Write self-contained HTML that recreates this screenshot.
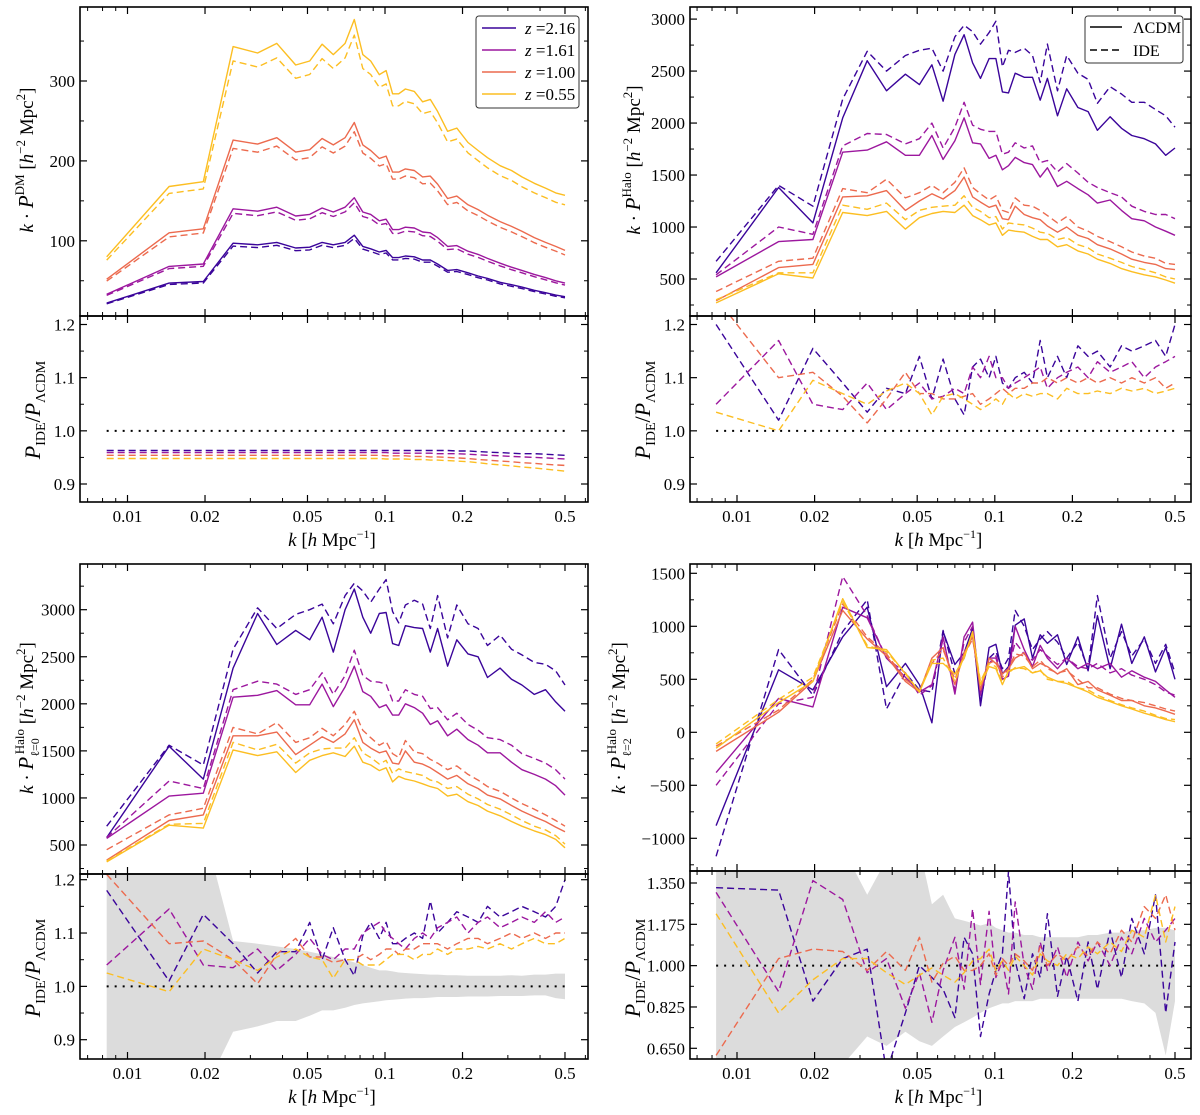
<!DOCTYPE html>
<html><head><meta charset="utf-8"><style>
html,body{margin:0;padding:0;background:#fff;}
svg{display:block;font-family:"Liberation Serif","DejaVu Serif",serif;}
</style></head><body>
<svg id="fig" xmlns="http://www.w3.org/2000/svg" width="1200" height="1115" viewBox="0 0 1200 1115"></svg>
<script>
const K = [0.0083,0.0145,0.0197,0.0257,0.032,0.038,0.045,0.051,0.057,0.063,0.070,0.076,0.082,0.088,0.095,0.101,0.107,0.113,0.12,0.13,0.14,0.15,0.16,0.175,0.19,0.21,0.23,0.25,0.28,0.31,0.34,0.38,0.42,0.46,0.5];
const redshifts = ["2.16","1.61","1.00","0.55"];
const colors = ["#3a049a","#9c179e","#ec6a4e","#fcbe22"];

// Panel 1: dark matter
const dmLcdm216 = [22,47,49,97,95,98,91,92,98,95,98,107,93,90,86,88,79,79,81,80,76,76,71,63,64,60,56,53,48,45,42,38,35,32,30];
const dmLcdm161 = [33,68,71,140,137,142,131,133,141,136,142,154,136,133,125,127,114,114,117,116,111,110,104,93,94,87,83,78,72,67,63,58,54,50,47];
const dmLcdm100 = [52,110,115,226,221,229,211,214,228,220,229,248,220,213,203,206,186,186,190,188,180,181,171,153,156,145,139,132,124,118,112,104,98,93,88];
const dmLcdm055 = [80,168,174,343,335,347,320,325,346,333,347,377,333,325,308,313,284,284,290,287,274,277,262,237,241,223,213,204,194,188,180,172,166,160,157];
const dmRatio216 = [0.963,0.963,0.963,0.963,0.963,0.963,0.963,0.963,0.963,0.963,0.963,0.963,0.963,0.963,0.963,0.963,0.963,0.963,0.963,0.963,0.963,0.963,0.963,0.963,0.962,0.962,0.961,0.960,0.959,0.958,0.957,0.957,0.956,0.955,0.954];
const dmRatio161 = [0.959,0.959,0.959,0.959,0.959,0.959,0.959,0.959,0.959,0.959,0.959,0.959,0.959,0.959,0.959,0.959,0.958,0.958,0.958,0.958,0.958,0.958,0.957,0.957,0.957,0.956,0.955,0.954,0.953,0.952,0.951,0.950,0.949,0.948,0.947];
const dmRatio100 = [0.954,0.954,0.954,0.954,0.954,0.954,0.954,0.954,0.954,0.954,0.954,0.954,0.954,0.954,0.954,0.953,0.953,0.953,0.953,0.952,0.952,0.951,0.951,0.950,0.949,0.948,0.946,0.945,0.943,0.942,0.940,0.939,0.937,0.936,0.935];
const dmRatio055 = [0.948,0.948,0.948,0.948,0.948,0.948,0.948,0.948,0.948,0.948,0.948,0.948,0.948,0.948,0.948,0.947,0.947,0.947,0.947,0.946,0.946,0.945,0.945,0.944,0.943,0.942,0.940,0.938,0.936,0.934,0.932,0.930,0.928,0.926,0.924];

// Panel 2: halo
const hLcdm216 = [560,1380,1040,2050,2600,2310,2470,2370,2560,2210,2660,2850,2580,2430,2620,2620,2300,2290,2480,2440,2440,2220,2430,2070,2330,2150,2110,1930,2060,1950,1880,1850,1800,1690,1760];
const hIde216 = [670,1400,1200,2230,2690,2500,2650,2700,2720,2500,2830,2940,2880,2760,2870,2980,2540,2700,2680,2720,2650,2390,2760,2310,2650,2480,2420,2190,2350,2280,2200,2200,2130,2070,1960];
const hLcdm161 = [520,860,880,1720,1740,1820,1690,1690,1880,1650,1830,2050,1810,1800,1660,1690,1550,1590,1670,1620,1600,1480,1570,1390,1440,1370,1310,1230,1260,1160,1080,1060,1000,960,920];
const hIde161 = [540,1000,930,1780,1900,1890,1800,1850,2000,1760,1960,2200,1980,1940,1920,1920,1700,1720,1810,1760,1780,1620,1640,1530,1610,1520,1430,1380,1330,1290,1200,1150,1120,1120,1080];
const hLcdm100 = [290,610,640,1290,1300,1350,1160,1250,1320,1270,1350,1480,1290,1240,1190,1210,1080,1070,1200,1120,1090,1070,1010,950,1000,920,890,830,790,740,690,660,640,600,590];
const hIde100 = [380,670,700,1370,1330,1460,1280,1330,1400,1330,1430,1570,1380,1320,1260,1300,1160,1140,1280,1210,1200,1160,1110,1040,1100,1000,960,910,860,810,760,720,700,650,640];
const hLcdm055 = [270,550,510,1140,1110,1150,980,1090,1130,1150,1140,1210,1110,1070,1020,1040,920,970,960,950,910,880,880,810,830,770,740,690,650,600,570,540,520,490,460];
const hIde055 = [300,560,560,1210,1170,1230,1070,1160,1190,1200,1210,1300,1190,1150,1090,1100,980,1040,1030,1020,990,950,940,880,900,830,800,740,700,660,620,590,560,520,500];
const hRatio216 = [1.20,1.02,1.155,1.09,1.035,1.08,1.07,1.14,1.06,1.135,1.06,1.03,1.12,1.135,1.10,1.14,1.09,1.08,1.10,1.11,1.09,1.17,1.10,1.14,1.10,1.16,1.14,1.15,1.12,1.16,1.15,1.16,1.17,1.14,1.20];
const hRatio161 = [1.05,1.17,1.05,1.04,1.09,1.04,1.07,1.09,1.06,1.065,1.08,1.07,1.12,1.10,1.14,1.10,1.10,1.08,1.09,1.10,1.11,1.12,1.08,1.10,1.11,1.12,1.10,1.13,1.11,1.12,1.13,1.10,1.12,1.13,1.14];
const hRatio100 = [1.25,1.10,1.11,1.065,1.015,1.06,1.11,1.07,1.07,1.06,1.06,1.065,1.07,1.05,1.06,1.07,1.08,1.07,1.08,1.08,1.09,1.09,1.10,1.09,1.10,1.09,1.10,1.09,1.10,1.09,1.10,1.09,1.10,1.08,1.09];
const hRatio055 = [1.035,1.00,1.095,1.07,1.05,1.075,1.09,1.07,1.03,1.065,1.07,1.06,1.05,1.04,1.05,1.06,1.05,1.07,1.06,1.07,1.065,1.07,1.07,1.06,1.08,1.07,1.07,1.075,1.07,1.08,1.075,1.08,1.07,1.075,1.08];

// Panel 3: monopole
const m0Lcdm216 = [580,1550,1200,2380,2960,2630,2780,2680,2920,2550,3000,3220,2920,2750,2960,2970,2640,2620,2830,2810,2800,2550,2800,2400,2680,2530,2500,2280,2380,2260,2200,2100,2150,2020,1920];
const m0Ide216 = [700,1560,1350,2580,3020,2800,2950,3000,3060,2850,3150,3280,3200,3080,3220,3320,2980,2860,3050,3100,3060,2800,3150,2700,3050,2850,2800,2620,2730,2580,2520,2440,2420,2350,2200];
const m0Lcdm161 = [570,1020,1050,2070,2090,2140,1990,1990,2210,1970,2180,2400,2130,2080,1960,1990,1880,1880,2000,1960,1900,1780,1820,1660,1730,1620,1560,1480,1480,1380,1300,1250,1200,1130,1030];
const m0Ide161 = [580,1180,1100,2150,2240,2210,2100,2150,2330,2100,2300,2570,2300,2240,2230,2210,2030,2030,2150,2100,2080,1950,1960,1830,1900,1780,1720,1640,1620,1560,1470,1420,1370,1300,1200];
const m0Lcdm100 = [340,760,820,1660,1660,1700,1460,1560,1650,1590,1680,1830,1590,1530,1480,1500,1370,1360,1500,1380,1360,1320,1270,1200,1240,1150,1100,1030,990,920,860,800,750,690,640];
const m0Ide100 = [450,820,890,1750,1680,1800,1590,1640,1740,1660,1780,1920,1720,1640,1560,1600,1470,1430,1610,1490,1470,1410,1370,1300,1340,1250,1190,1120,1070,1000,940,880,820,760,700];
const m0Lcdm055 = [320,710,680,1510,1450,1490,1270,1400,1450,1480,1440,1550,1380,1350,1290,1320,1170,1230,1200,1180,1150,1120,1100,1020,1040,960,920,860,810,750,700,650,610,560,470];
const m0Ide055 = [330,720,730,1590,1510,1570,1370,1480,1520,1530,1530,1640,1480,1430,1360,1400,1260,1310,1280,1260,1240,1190,1170,1100,1120,1040,990,930,880,820,760,700,660,600,510];
const m0Ratio216 = [1.18,1.01,1.135,1.08,1.025,1.065,1.065,1.12,1.05,1.11,1.05,1.02,1.095,1.12,1.09,1.12,1.08,1.08,1.09,1.10,1.09,1.16,1.10,1.12,1.14,1.13,1.12,1.15,1.13,1.14,1.15,1.14,1.13,1.15,1.20];
const m0Ratio161 = [1.04,1.145,1.04,1.035,1.07,1.03,1.06,1.09,1.06,1.05,1.07,1.07,1.10,1.11,1.12,1.10,1.09,1.08,1.07,1.09,1.10,1.09,1.11,1.12,1.13,1.10,1.12,1.13,1.11,1.12,1.13,1.12,1.14,1.12,1.13];
const m0Ratio100 = [1.21,1.08,1.085,1.05,1.005,1.06,1.09,1.055,1.055,1.045,1.05,1.05,1.06,1.05,1.06,1.07,1.07,1.06,1.07,1.07,1.08,1.08,1.08,1.07,1.08,1.09,1.09,1.08,1.09,1.10,1.09,1.10,1.09,1.10,1.10];
const m0Ratio055 = [1.025,0.99,1.07,1.05,1.03,1.055,1.07,1.055,1.05,1.015,1.05,1.05,1.04,1.04,1.04,1.05,1.06,1.06,1.06,1.05,1.06,1.06,1.07,1.06,1.07,1.07,1.075,1.07,1.08,1.07,1.08,1.09,1.08,1.08,1.09];
const m0BandHi = [1.30,1.30,1.30,1.085,1.08,1.075,1.07,1.065,1.06,1.055,1.05,1.045,1.04,1.035,1.03,1.03,1.028,1.026,1.025,1.024,1.023,1.022,1.022,1.021,1.021,1.02,1.02,1.02,1.02,1.021,1.02,1.022,1.022,1.024,1.024];
const m0BandLo = [0.80,0.80,0.80,0.915,0.925,0.935,0.935,0.945,0.955,0.955,0.96,0.965,0.968,0.97,0.972,0.974,0.975,0.976,0.977,0.978,0.978,0.979,0.98,0.98,0.98,0.981,0.981,0.981,0.982,0.982,0.982,0.983,0.983,0.978,0.976];

// Panel 4: quadrupole
const m2Lcdm216 = [-880,590,400,900,1180,430,650,450,90,950,640,750,980,250,800,830,550,620,1010,1070,700,920,840,920,640,900,580,1100,600,1020,650,900,570,800,500];
const m2Ide216 = [-1170,780,350,950,1250,220,560,400,380,960,550,700,950,300,700,760,600,700,1150,1000,780,880,950,850,700,850,600,1290,700,950,720,880,650,830,560];
const m2Lcdm161 = [-380,320,240,1180,1080,700,520,380,450,900,360,900,1040,350,700,700,500,530,1000,780,620,820,700,600,700,600,650,600,650,520,580,520,480,400,330];
const m2Ide161 = [-500,270,330,1470,1100,700,560,350,440,880,400,850,1000,380,650,720,560,600,850,740,680,780,720,640,700,620,600,650,560,600,540,500,450,380,350];
const m2Lcdm100 = [-180,190,480,1150,880,720,480,380,700,800,450,750,900,400,700,650,550,600,700,750,600,650,620,550,600,450,480,400,350,300,300,250,230,200,170];
const m2Ide100 = [-130,210,500,1210,900,740,500,400,650,780,500,730,880,450,650,680,520,600,740,720,620,680,600,560,580,500,420,420,360,320,300,280,250,220,200];
const m2Lcdm055 = [-150,280,480,1260,800,780,550,380,650,650,550,700,950,450,620,600,450,580,600,620,560,580,520,480,460,420,380,330,290,250,220,180,150,120,100];
const m2Ide055 = [-110,310,520,1230,820,760,560,380,680,700,480,720,930,480,650,620,470,560,610,600,560,590,500,480,480,420,400,350,300,260,230,200,160,130,120];
const m2Ratio216 = [1.33,1.32,0.85,1.03,1.07,0.55,0.80,1.00,0.95,0.90,0.78,1.12,1.05,0.70,0.88,0.98,1.05,1.40,1.02,0.86,1.05,0.95,1.22,0.87,1.04,0.85,1.10,0.90,1.15,0.95,1.20,1.05,1.30,0.80,1.10];
const m2Ratio161 = [1.31,0.89,1.36,1.28,0.97,1.03,0.82,0.97,0.76,0.98,1.12,0.90,1.24,0.92,1.23,0.95,1.02,0.88,1.27,1.00,0.90,1.10,0.98,1.08,0.95,1.10,1.02,1.10,1.00,1.12,1.05,1.20,1.10,1.15,1.20];
const m2Ratio100 = [0.62,1.03,1.07,1.06,0.98,1.06,0.98,1.12,0.93,1.01,1.04,0.98,0.98,1.00,1.05,0.96,1.03,1.00,1.05,1.02,0.98,1.08,1.00,1.05,1.02,1.08,1.04,1.10,1.05,1.15,1.10,1.25,1.20,1.30,1.15];
const m2Ratio055 = [1.22,0.80,0.94,1.03,1.03,0.97,0.92,0.96,0.99,0.96,0.93,0.97,1.02,1.03,1.07,0.98,1.02,0.98,1.04,1.00,0.96,1.05,1.02,1.00,1.05,1.03,1.08,1.05,1.10,1.06,1.15,1.12,1.30,1.10,1.25];
const m2BandHi = [1.50,1.50,1.50,1.50,1.30,1.45,1.50,1.50,1.26,1.30,1.20,1.19,1.18,1.17,1.18,1.16,1.15,1.14,1.14,1.13,1.13,1.12,1.12,1.12,1.12,1.12,1.13,1.13,1.14,1.14,1.15,1.15,1.16,1.16,1.15];
const m2BandLo = [0.58,0.58,0.58,0.58,0.70,0.66,0.72,0.68,0.66,0.70,0.74,0.76,0.78,0.80,0.82,0.83,0.84,0.84,0.85,0.85,0.85,0.86,0.86,0.86,0.86,0.86,0.86,0.86,0.86,0.86,0.85,0.84,0.80,0.62,0.85];

const xTickVals = [0.01,0.02,0.05,0.1,0.2,0.5];
const xTickText = ["0.01","0.02","0.05","0.1","0.2","0.5"];

const NS = "http://www.w3.org/2000/svg";
const fig = document.getElementById("fig");
function mk(tag, attrs, parent){
  const e = document.createElementNS(NS, tag);
  for (const a in attrs) e.setAttribute(a, attrs[a]);
  (parent||fig).appendChild(e);
  return e;
}

const LEFT = {x0:80, x1:588, kx0:127.5, dec:257.5};
const RIGHT = {x0:690, x1:1191, kx0:737, dec:257.8};
function xf(col){ return k => col.kx0 + col.dec*Math.log10(k/0.01); }
function yf(v1,p1,v2,p2){ return v => p1 + (v - v1)*(p2 - p1)/(v2 - v1); }

let clipId = 0;
function axesBox(col, yTop, yBot, yMap, yTicks, yTickText, yMinor, name, showXLabels){
  const g = mk("g", {});
  
  
  const X = xf(col);
  // x ticks
  const minorK = [];
  for (const d of [0.001,0.01,0.1]) for (let m=2; m<=9; m++){ const k=m*d; if (X(k)>col.x0 && X(k)<col.x1 && xTickVals.indexOf(Math.round(k*1000)/1000)<0) minorK.push(k); }
  xTickVals.forEach(k=>{ const x=X(k);
    mk("line",{x1:x,x2:x,y1:yBot,y2:yBot-7,stroke:"#000","stroke-width":1.2},g);
    mk("line",{x1:x,x2:x,y1:yTop,y2:yTop+7,stroke:"#000","stroke-width":1.2},g);
  });
  minorK.forEach(k=>{ const x=X(k);
    mk("line",{x1:x,x2:x,y1:yBot,y2:yBot-4,stroke:"#000","stroke-width":1},g);
    mk("line",{x1:x,x2:x,y1:yTop,y2:yTop+4,stroke:"#000","stroke-width":1},g);
  });
  yTicks.forEach((v,i)=>{ const y=yMap(v);
    mk("line",{x1:col.x0,x2:col.x0+7,y1:y,y2:y,stroke:"#000","stroke-width":1.2},g);
    mk("line",{x1:col.x1,x2:col.x1-7,y1:y,y2:y,stroke:"#000","stroke-width":1.2},g);
    const t = mk("text",{x:col.x0-5,y:y+6,"text-anchor":"end","font-size":17},g);
    t.textContent = yTickText[i];
    
    
  });
  yMinor.forEach(v=>{ const y=yMap(v); if (y<=yTop+1||y>=yBot-1) return;
    mk("line",{x1:col.x0,x2:col.x0+4,y1:y,y2:y,stroke:"#000","stroke-width":1},g);
    mk("line",{x1:col.x1,x2:col.x1-4,y1:y,y2:y,stroke:"#000","stroke-width":1},g);
  });
  mk("rect",{x:col.x0,y:yTop,width:col.x1-col.x0,height:yBot-yTop,fill:"none",stroke:"#000","stroke-width":1.6},g);
  if (showXLabels){
    xTickVals.forEach((k,i)=>{
      const t = mk("text",{x:X(k),y:yBot+20,"text-anchor":"middle","font-size":17},g);
      t.textContent = xTickText[i];
      
      
    });
    const xt = mk("text",{x:(col.x0+col.x1)/2-2,y:yBot+44,"text-anchor":"middle","font-size":19},g);
    
    
    xt.innerHTML = '<tspan font-style="italic">k</tspan> [<tspan font-style="italic">h</tspan> Mpc<tspan font-size="12" dy="-8">−1</tspan><tspan dy="8">]</tspan>';
  }
  return X;
}

function clipFor(col, yTop, yBot){
  clipId++;
  const cp = mk("clipPath",{id:"c"+clipId});
  mk("rect",{x:col.x0,y:yTop,width:col.x1-col.x0,height:yBot-yTop},cp);
  return "url(#c"+clipId+")";
}

function line(X, Y, vals, color, dashed, clip, name){
  const n = Math.min(K.length, vals.length);
  let d = "";
  for (let i=0;i<n;i++) d += (i?"L":"M") + X(K[i]).toFixed(1) + "," + Y(vals[i]).toFixed(1);
  const p = mk("path",{d:d,fill:"none",stroke:color,"stroke-width":1.4,"stroke-dasharray":dashed?"7,4":"none","clip-path":clip,"stroke-linejoin":"round"});
  
  
}
function band(X, Y, hi, lo, clip, name){
  const n = Math.min(K.length, hi.length, lo.length);
  let d = "";
  for (let i=0;i<n;i++) d += (i?"L":"M") + X(K[i]).toFixed(1) + "," + Y(hi[i]).toFixed(1);
  for (let i=n-1;i>=0;i--) d += "L" + X(K[i]).toFixed(1) + "," + Y(lo[i]).toFixed(1);
  const p = mk("path",{d:d+"Z",fill:"#dcdcdc",stroke:"none","clip-path":clip});
  
  
}
function unity(col, Y, clip){
  const p = mk("line",{x1:col.kx0+col.dec*Math.log10(0.0083/0.01),x2:col.kx0+col.dec*Math.log10(50),y1:Y(1),y2:Y(1),stroke:"#000","stroke-width":2,"stroke-dasharray":"2,6","clip-path":clip});
  
  
}
function ytitle(x, y, html, name){
  const t = mk("text",{x:x,y:y,"text-anchor":"middle","font-size":19,transform:"rotate(-90 "+x+" "+y+")"});
  t.innerHTML = html;
  
  
}
const ratioTitle = '<tspan font-style="italic" font-size="22">P</tspan><tspan font-size="14" dy="5">IDE</tspan><tspan dy="-5" font-size="22">/</tspan><tspan font-style="italic" font-size="22">P</tspan><tspan font-size="14" dy="5">ΛCDM</tspan>';
function mainTitle(sup, sub){
  return '<tspan font-style="italic">k</tspan> · <tspan font-style="italic" font-size="21">P</tspan>' +
    (sub ? '<tspan font-size="12" dy="6">' + sub + '</tspan><tspan font-size="13" dx="-16" dy="-15">' + sup + '</tspan><tspan dy="9"> [</tspan>'
         : '<tspan font-size="13" dy="-9">' + sup + '</tspan><tspan dy="9"> [</tspan>') +
    '<tspan font-style="italic">h</tspan><tspan font-size="13" dy="-8">−2</tspan><tspan dy="8"> Mpc</tspan><tspan font-size="13" dy="-8">2</tspan><tspan dy="8">]</tspan>';
}

// ===== Panel TL =====
(function(){
  const col = LEFT, top=7, mid=316, bot=502;
  const Ym = yf(300,81,100,240.8), Yr = yf(1.2,324.5,0.9,484);
  const cm = clipFor(col,top,mid), cr = clipFor(col,mid,bot);
  const X = xf(col);
  const L = [dmLcdm216,dmLcdm161,dmLcdm100,dmLcdm055], R = [dmRatio216,dmRatio161,dmRatio100,dmRatio055];
  unity(col, Yr, cr);
  for (let s=0;s<4;s++){
    line(X,Ym,L[s],colors[s],false,cm,'dm-lcdm-z'+redshifts[s]);
    const ide = L[s].map((v,i)=>v*R[s][i]);
    line(X,Ym,ide,colors[s],true,cm,'dm-ide-z'+redshifts[s]);
    line(X,Yr,R[s],colors[s],true,cr,'dm-ratio-z'+redshifts[s]);
  }
  axesBox(col,top,mid,Ym,[100,200,300],["100","200","300"],[50,150,250,350],'dm-main-axes',false);
  axesBox(col,mid,bot,Yr,[0.9,1.0,1.1,1.2],["0.9","1.0","1.1","1.2"],[0.95,1.05,1.15],'dm-ratio-axes',true);
  ytitle(33,160,mainTitle('DM',null),'dm-y-axis-title');
  ytitle(40,410,ratioTitle,'dm-ratio-y-axis-title');
  // legend
  const lg = mk("g",{});
  
  
  mk("rect",{x:476,y:16,width:103,height:92,rx:3,fill:"#fff",stroke:"#333","stroke-width":1},lg);
  for (let s=0;s<4;s++){
    const y = 28 + s*22;
    mk("line",{x1:482,x2:516,y1:y,y2:y,stroke:colors[s],"stroke-width":1.6},lg);
    const t = mk("text",{x:525,y:y+6,"font-size":17},lg);
    t.innerHTML = '<tspan font-style="italic">z</tspan> =' + redshifts[s];
    
    
  }
})();

// ===== Panel TR =====
(function(){
  const col = RIGHT, top=7, mid=316, bot=502;
  const Ym = yf(3000,19.1,500,279), Yr = yf(1.2,324.5,0.9,484);
  const cm = clipFor(col,top,mid), cr = clipFor(col,mid,bot);
  const X = xf(col);
  const L=[hLcdm216,hLcdm161,hLcdm100,hLcdm055], I=[hIde216,hIde161,hIde100,hIde055], R=[hRatio216,hRatio161,hRatio100,hRatio055];
  unity(col, Yr, cr);
  for (let s=0;s<4;s++){
    line(X,Ym,L[s],colors[s],false,cm,'halo-lcdm-z'+redshifts[s]);
    line(X,Ym,I[s],colors[s],true,cm,'halo-ide-z'+redshifts[s]);
    line(X,Yr,R[s],colors[s],true,cr,'halo-ratio-z'+redshifts[s]);
  }
  axesBox(col,top,mid,Ym,[500,1000,1500,2000,2500,3000],["500","1000","1500","2000","2500","3000"],[250,750,1250,1750,2250,2750],'halo-main-axes',false);
  axesBox(col,mid,bot,Yr,[0.9,1.0,1.1,1.2],["0.9","1.0","1.1","1.2"],[0.95,1.05,1.15],'halo-ratio-axes',true);
  ytitle(640,160,mainTitle('Halo',null),'halo-y-axis-title');
  ytitle(650,410,ratioTitle,'halo-ratio-y-axis-title');
  const lg = mk("g",{});
  
  
  mk("rect",{x:1085,y:16,width:98,height:47,rx:3,fill:"#fff",stroke:"#333","stroke-width":1},lg);
  mk("line",{x1:1090,x2:1122,y1:27,y2:27,stroke:"#000","stroke-width":1.4},lg);
  mk("line",{x1:1090,x2:1122,y1:50,y2:50,stroke:"#000","stroke-width":1.4,"stroke-dasharray":"7,4"},lg);
  const t1 = mk("text",{x:1133,y:33,"font-size":16},lg); t1.textContent = "ΛCDM";
  
  
  const t2 = mk("text",{x:1133,y:56,"font-size":16},lg); t2.textContent = "IDE";
  
  
})();

// ===== Panel BL =====
(function(){
  const col = LEFT, top=564, mid=874, bot=1059;
  const Ym = yf(3000,609.7,500,845), Yr = yf(1.2,879.7,0.9,1039.7);
  const cm = clipFor(col,top,mid), cr = clipFor(col,mid,bot);
  const X = xf(col);
  const L=[m0Lcdm216,m0Lcdm161,m0Lcdm100,m0Lcdm055], I=[m0Ide216,m0Ide161,m0Ide100,m0Ide055], R=[m0Ratio216,m0Ratio161,m0Ratio100,m0Ratio055];
  band(X,Yr,m0BandHi,m0BandLo,cr,'monopole-error-band');
  unity(col, Yr, cr);
  for (let s=0;s<4;s++){
    line(X,Ym,L[s],colors[s],false,cm,'monopole-lcdm-z'+redshifts[s]);
    line(X,Ym,I[s],colors[s],true,cm,'monopole-ide-z'+redshifts[s]);
    line(X,Yr,R[s],colors[s],true,cr,'monopole-ratio-z'+redshifts[s]);
  }
  axesBox(col,top,mid,Ym,[500,1000,1500,2000,2500,3000],["500","1000","1500","2000","2500","3000"],[250,750,1250,1750,2250,2750,3250],'monopole-main-axes',false);
  axesBox(col,mid,bot,Yr,[0.9,1.0,1.1,1.2],["0.9","1.0","1.1","1.2"],[0.95,1.05,1.15],'monopole-ratio-axes',true);
  ytitle(33,718,mainTitle('Halo','ℓ=0'),'monopole-y-axis-title');
  ytitle(40,968,ratioTitle,'monopole-ratio-y-axis-title');
})();

// ===== Panel BR =====
(function(){
  const col = RIGHT, top=564, mid=871, bot=1059;
  const Ym = yf(1500,573.3,-1000,838.3), Yr = yf(1.35,883,0.65,1048.3);
  const cm = clipFor(col,top,mid), cr = clipFor(col,mid,bot);
  const X = xf(col);
  const L=[m2Lcdm216,m2Lcdm161,m2Lcdm100,m2Lcdm055], I=[m2Ide216,m2Ide161,m2Ide100,m2Ide055], R=[m2Ratio216,m2Ratio161,m2Ratio100,m2Ratio055];
  band(X,Yr,m2BandHi,m2BandLo,cr,'quadrupole-error-band');
  unity(col, Yr, cr);
  for (let s=0;s<4;s++){
    line(X,Ym,L[s],colors[s],false,cm,'quadrupole-lcdm-z'+redshifts[s]);
    line(X,Ym,I[s],colors[s],true,cm,'quadrupole-ide-z'+redshifts[s]);
    line(X,Yr,R[s],colors[s],true,cr,'quadrupole-ratio-z'+redshifts[s]);
  }
  axesBox(col,top,mid,Ym,[-1000,-500,0,500,1000,1500],["−1000","−500","0","500","1000","1500"],[-1250,-750,-250,250,750,1250],'quadrupole-main-axes',false);
  axesBox(col,mid,bot,Yr,[0.65,0.825,1.0,1.175,1.35],["0.650","0.825","1.000","1.175","1.350"],[0.7375,0.9125,1.0875,1.2625],'quadrupole-ratio-axes',true);
  ytitle(625,718,mainTitle('Halo','ℓ=2'),'quadrupole-y-axis-title');
  ytitle(640,968,ratioTitle,'quadrupole-ratio-y-axis-title');
})();
</script>
</body></html>
